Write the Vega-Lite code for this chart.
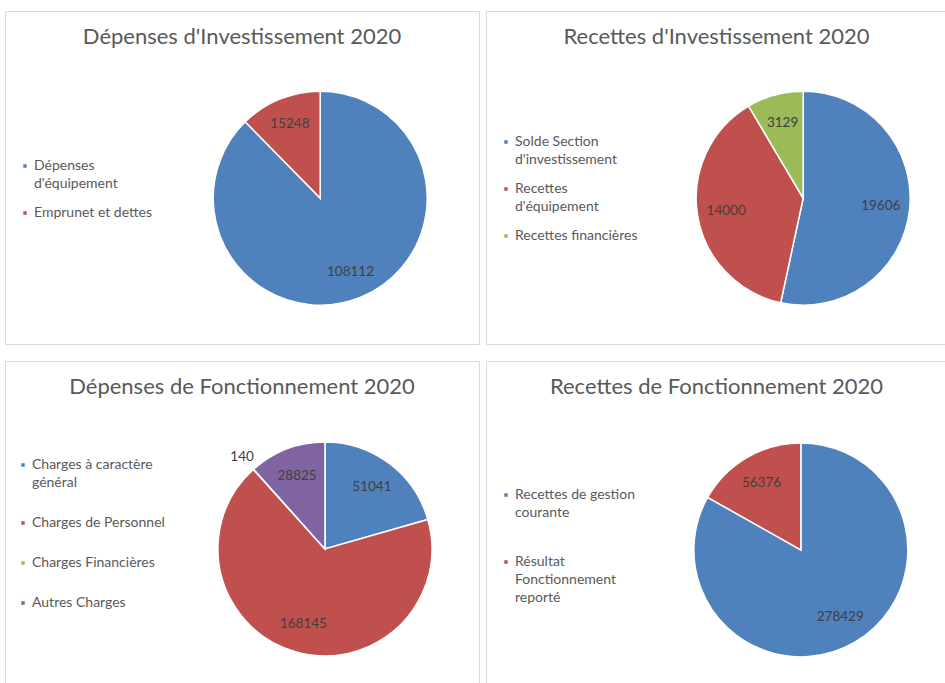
{
  "$schema": "https://vega.github.io/schema/vega-lite/v6.json",
  "background": "white",
  "padding": {"left": 4, "top": 10, "right": 0, "bottom": 0},
  "spacing": 15,
  "config": {
    "view": {"stroke": "#d9d9d9", "strokeWidth": 1},
    "font": "Lato",
    "style": {"guide-label": {"lineHeight": 18}},
    "title": {"font": "Lato", "fontSize": 22, "fontWeight": "normal", "color": "#595959", "anchor": "middle", "offset": -38},
    "legend": {"orient": "none", "title": null, "symbolType": "square", "symbolSize": 25, "labelFont": "Lato", "labelFontSize": 14, "labelColor": "#595959", "labelOffset": 2, "labelLimit": 400, "padding": 0}
  },
  "resolve": {"scale": {"color": "independent", "theta": "independent", "x": "independent", "y": "independent"}},
  "vconcat": [
    {
      "spacing": 5,
      "resolve": {"scale": {"color": "independent", "theta": "independent", "x": "independent", "y": "independent"}},
      "hconcat": [
        {
          "width": 474, "height": 333,
          "title": "Dépenses d'Investissement 2020",
          "data": {"values": [
            {"poste": "Dépenses d'équipement", "montant": 108112, "rang": 1},
            {"poste": "Emprunet et dettes", "montant": 15248, "rang": 2}
          ]},
          "encoding": {
            "theta": {"field": "montant", "type": "quantitative", "stack": true},
            "order": {"field": "rang"},
            "x": {"datum": 0.665, "type": "quantitative", "scale": {"domain": [0, 1]}, "axis": null},
            "y": {"datum": 0.562, "type": "quantitative", "scale": {"domain": [0, 1], "reverse": true}, "axis": null}
          },
          "layer": [
            {
              "mark": {"type": "arc", "outerRadius": 107, "stroke": "white", "strokeWidth": 1.5},
              "encoding": {
                "color": {"field": "poste", "type": "nominal",
                  "scale": {"domain": ["Dépenses d'équipement", "Emprunet et dettes"], "range": ["#4F81BD", "#C0504D"]},
                  "legend": {"legendX": 13, "legendY": 148, "rowPadding": 15,
                    "labelExpr": "datum.label === \"Dépenses d'équipement\" ? [\"Dépenses\", \"d'équipement\"] : datum.label"}}
              }
            },
            {
              "mark": {"type": "text", "radius": 80, "fontSize": 13.5, "fill": "#404040"},
              "encoding": {"text": {"field": "montant", "type": "quantitative", "format": "d"}}
            }
          ]
        },
        {
          "width": 461, "height": 333,
          "title": "Recettes d'Investissement 2020",
          "data": {"values": [
            {"poste": "Solde Section d'investissement", "montant": 19606, "rang": 1},
            {"poste": "Recettes d'équipement", "montant": 14000, "rang": 2},
            {"poste": "Recettes financières", "montant": 3129, "rang": 3}
          ]},
          "encoding": {
            "theta": {"field": "montant", "type": "quantitative", "stack": true},
            "order": {"field": "rang"},
            "x": {"datum": 0.688, "type": "quantitative", "scale": {"domain": [0, 1]}, "axis": null},
            "y": {"datum": 0.562, "type": "quantitative", "scale": {"domain": [0, 1], "reverse": true}, "axis": null}
          },
          "layer": [
            {
              "mark": {"type": "arc", "outerRadius": 107, "stroke": "white", "strokeWidth": 1.5},
              "encoding": {
                "color": {"field": "poste", "type": "nominal",
                  "scale": {"domain": ["Solde Section d'investissement", "Recettes d'équipement", "Recettes financières"], "range": ["#4F81BD", "#C0504D", "#9BBB59"]},
                  "legend": {"legendX": 13, "legendY": 124, "rowPadding": 15,
                    "labelExpr": "datum.label === \"Solde Section d'investissement\" ? [\"Solde Section\", \"d'investissement\"] : datum.label === \"Recettes d'équipement\" ? [\"Recettes\", \"d'équipement\"] : datum.label"}}
              }
            },
            {
              "mark": {"type": "text", "radius": 78, "fontSize": 13.5, "fill": "#404040"},
              "encoding": {"text": {"field": "montant", "type": "quantitative", "format": "d"}}
            }
          ]
        }
      ]
    },
    {
      "spacing": 5,
      "resolve": {"scale": {"color": "independent", "theta": "independent", "x": "independent", "y": "independent"}},
      "hconcat": [
        {
          "width": 474, "height": 324,
          "title": "Dépenses de Fonctionnement 2020",
          "data": {"values": [
            {"poste": "Charges à caractère général", "montant": 51041, "rang": 1},
            {"poste": "Charges de Personnel", "montant": 168145, "rang": 2},
            {"poste": "Charges Financières", "montant": 140, "rang": 3},
            {"poste": "Autres Charges", "montant": 28825, "rang": 4}
          ]},
          "encoding": {
            "theta": {"field": "montant", "type": "quantitative", "stack": true},
            "order": {"field": "rang"},
            "x": {"datum": 0.675, "type": "quantitative", "scale": {"domain": [0, 1]}, "axis": null},
            "y": {"datum": 0.58, "type": "quantitative", "scale": {"domain": [0, 1], "reverse": true}, "axis": null}
          },
          "layer": [
            {
              "mark": {"type": "arc", "outerRadius": 107, "stroke": "white", "strokeWidth": 1.5},
              "encoding": {
                "color": {"field": "poste", "type": "nominal",
                  "scale": {"domain": ["Charges à caractère général", "Charges de Personnel", "Charges Financières", "Autres Charges"], "range": ["#4F81BD", "#C0504D", "#9BBB59", "#8064A2"]},
                  "legend": {"legendX": 11, "legendY": 97, "rowPadding": 26,
                    "labelExpr": "datum.label === \"Charges à caractère général\" ? [\"Charges à caractère\", \"général\"] : datum.label"}}
              }
            },
            {
              "mark": {"type": "text", "radius": 78, "fontSize": 13.5, "fill": "#404040"},
              "encoding": {"text": {"condition": {"test": "datum.montant < 1000", "value": ""}, "field": "montant", "type": "quantitative", "format": "d"}}
            },
            {
              "mark": {"type": "text", "radius": 124, "fontSize": 13.5, "fill": "#404040"},
              "encoding": {"text": {"condition": {"test": "datum.montant < 1000", "field": "montant", "type": "quantitative", "format": "d"}, "value": ""}}
            }
          ]
        },
        {
          "width": 461, "height": 324,
          "title": "Recettes de Fonctionnement 2020",
          "data": {"values": [
            {"poste": "Recettes de gestion courante", "montant": 278429, "rang": 1},
            {"poste": "Résultat Fonctionnement reporté", "montant": 56376, "rang": 2}
          ]},
          "encoding": {
            "theta": {"field": "montant", "type": "quantitative", "stack": true},
            "order": {"field": "rang"},
            "x": {"datum": 0.683, "type": "quantitative", "scale": {"domain": [0, 1]}, "axis": null},
            "y": {"datum": 0.583, "type": "quantitative", "scale": {"domain": [0, 1], "reverse": true}, "axis": null}
          },
          "layer": [
            {
              "mark": {"type": "arc", "outerRadius": 107, "stroke": "white", "strokeWidth": 1.5},
              "encoding": {
                "color": {"field": "poste", "type": "nominal",
                  "scale": {"domain": ["Recettes de gestion courante", "Résultat Fonctionnement reporté"], "range": ["#4F81BD", "#C0504D"]},
                  "legend": {"legendX": 13, "legendY": 127, "rowPadding": 35,
                    "labelExpr": "datum.label === \"Recettes de gestion courante\" ? [\"Recettes de gestion\", \"courante\"] : datum.label === \"Résultat Fonctionnement reporté\" ? [\"Résultat\", \"Fonctionnement\", \"reporté\"] : datum.label"}}
              }
            },
            {
              "mark": {"type": "text", "radius": 78, "fontSize": 13.5, "fill": "#404040"},
              "encoding": {"text": {"field": "montant", "type": "quantitative", "format": "d"}}
            }
          ]
        }
      ]
    }
  ]
}
